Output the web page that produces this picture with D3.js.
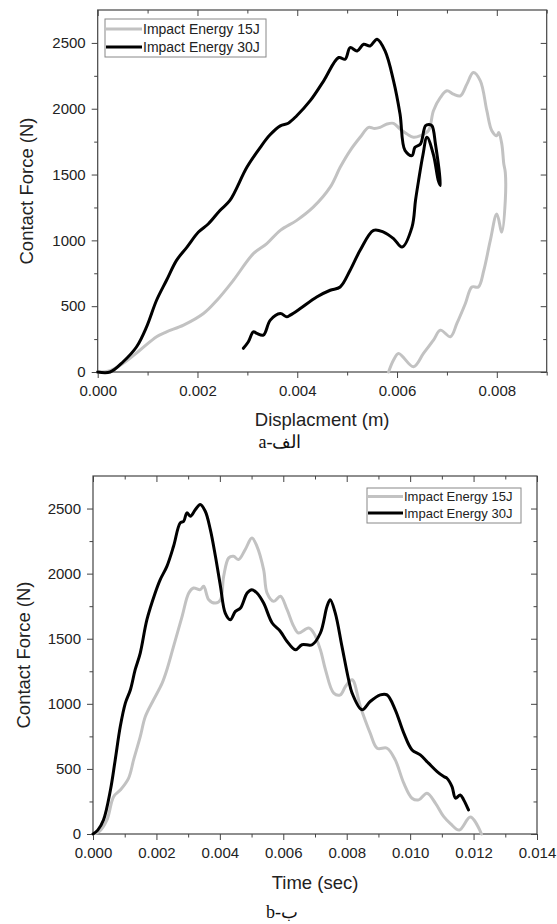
<!DOCTYPE html>
<html>
<head>
<meta charset="utf-8">
<script src="https://cdn.jsdelivr.net/npm/d3@7"></script>
<style>
html,body{margin:0;padding:0;background:#fff;}
svg{display:block;}
</style>
</head>
<body>
<svg id="chart" width="557" height="924"></svg>
<script>
// ---------- DATA ----------
const seriesNames = ["Impact Energy 15J", "Impact Energy 30J"];
const yTickValues = [0, 500, 1000, 1500, 2000, 2500];
const topXTickValues = [0.000, 0.002, 0.004, 0.006, 0.008];
const botXTickValues = [0.000, 0.002, 0.004, 0.006, 0.008, 0.010, 0.012, 0.014];

// (a) Force vs displacement, 15J
const top15X = [0, 0.00025, 0.00051, 0.00085, 0.00118, 0.00138, 0.00172, 0.00212, 0.00239, 0.00272, 0.00312, 0.00339, 0.00366, 0.00399, 0.00432, 0.00466, 0.00486, 0.00506, 0.00526, 0.00543, 0.00555, 0.00566, 0.0058, 0.00593, 0.00606, 0.0062, 0.00633, 0.00647, 0.00663, 0.00673, 0.00687, 0.007, 0.00713, 0.00727, 0.0074, 0.00753, 0.00767, 0.0078, 0.0079, 0.008, 0.00804, 0.0081, 0.00814, 0.00817, 0.00817, 0.0081, 0.008, 0.00787, 0.00774, 0.00763, 0.0075, 0.00737, 0.0072, 0.00707, 0.00687, 0.00673, 0.00653, 0.00633, 0.00603, 0.00593, 0.00583];
const top15F = [0, 10, 66, 167, 268, 305, 356, 444, 545, 697, 899, 975, 1076, 1152, 1252, 1404, 1555, 1682, 1783, 1858, 1850, 1858, 1884, 1889, 1846, 1808, 1783, 1795, 1833, 1985, 2086, 2136, 2111, 2098, 2187, 2275, 2212, 1985, 1833, 1795, 1820, 1732, 1581, 1517, 1303, 1063, 1200, 1000, 773, 646, 646, 520, 369, 268, 318, 242, 141, 40, 141, 91, 0];

// (a) Force vs displacement, 30J
const top30X = [0, 0.00025, 0.00051, 0.00078, 0.00098, 0.00118, 0.00138, 0.00158, 0.00179, 0.00202, 0.00222, 0.00245, 0.00265, 0.00299, 0.00326, 0.00345, 0.00366, 0.00382, 0.00399, 0.00426, 0.00453, 0.00483, 0.00496, 0.00506, 0.0052, 0.00533, 0.00546, 0.0056, 0.00576, 0.00593, 0.00606, 0.00616, 0.0063, 0.00636, 0.00647, 0.00657, 0.00664, 0.0067, 0.00677, 0.00687, 0.00683, 0.00673, 0.0066, 0.00652, 0.00643, 0.00637, 0.0063, 0.0061, 0.00593, 0.00573, 0.00553, 0.00526, 0.00506, 0.00486, 0.00466, 0.00439, 0.00406, 0.00386, 0.00379, 0.00366, 0.00346, 0.00332, 0.00319, 0.00312, 0.00302, 0.00292];
const top30F = [0, 0, 78, 192, 343, 545, 697, 848, 949, 1063, 1126, 1227, 1303, 1555, 1707, 1800, 1870, 1890, 1947, 2061, 2212, 2389, 2376, 2464, 2439, 2490, 2477, 2528, 2439, 2212, 1960, 1682, 1644, 1707, 1732, 1871, 1880, 1871, 1732, 1417, 1450, 1650, 1783, 1650, 1450, 1303, 1101, 949, 1013, 1063, 1076, 924, 773, 646, 621, 570, 482, 432, 419, 444, 394, 280, 293, 305, 230, 180];

// (b) Force vs time, 15J
const bot15T = [0, 0.0002, 0.00044, 0.00065, 0.00086, 0.00112, 0.00128, 0.00149, 0.00165, 0.00191, 0.00218, 0.00233, 0.00254, 0.00281, 0.00302, 0.00317, 0.00338, 0.00349, 0.00365, 0.00386, 0.00402, 0.00412, 0.00428, 0.00443, 0.00459, 0.0048, 0.00501, 0.00517, 0.00538, 0.00549, 0.0057, 0.00591, 0.00612, 0.00633, 0.00648, 0.0068, 0.00696, 0.00717, 0.00733, 0.00759, 0.0078, 0.00796, 0.00817, 0.00843, 0.00874, 0.00896, 0.00927, 0.00953, 0.0098, 0.01006, 0.01027, 0.01053, 0.0108, 0.01106, 0.01127, 0.01155, 0.0119, 0.01225];
const bot15F = [0, 20, 108, 287, 338, 428, 569, 748, 902, 1031, 1159, 1262, 1441, 1672, 1851, 1890, 1877, 1903, 1800, 1774, 1800, 1980, 2121, 2133, 2108, 2185, 2274, 2210, 2031, 1851, 1787, 1826, 1723, 1595, 1544, 1582, 1544, 1415, 1262, 1082, 1069, 1133, 1185, 979, 775, 659, 659, 569, 390, 275, 262, 313, 236, 133, 80, 30, 130, 0];

// (b) Force vs time, 30J
const bot30T = [0, 0.00015, 0.00033, 0.00055, 0.0007, 0.00086, 0.00102, 0.00118, 0.00133, 0.00149, 0.0017, 0.00196, 0.00212, 0.00233, 0.00254, 0.00275, 0.00286, 0.00296, 0.00307, 0.00323, 0.00338, 0.00354, 0.0037, 0.00386, 0.00402, 0.00417, 0.00433, 0.00449, 0.00465, 0.00486, 0.00501, 0.00517, 0.00538, 0.00565, 0.00591, 0.00612, 0.00638, 0.00659, 0.00691, 0.00717, 0.00738, 0.00748, 0.00764, 0.00785, 0.00806, 0.00817, 0.00848, 0.00874, 0.00906, 0.00927, 0.00953, 0.0098, 0.01006, 0.01032, 0.01058, 0.01085, 0.01106, 0.01116, 0.01132, 0.01143, 0.01158, 0.01169, 0.01184];
const bot30F = [0, 30, 108, 338, 569, 825, 1005, 1108, 1262, 1390, 1646, 1851, 1954, 2056, 2210, 2390, 2403, 2467, 2441, 2492, 2531, 2479, 2338, 2133, 1902, 1697, 1646, 1710, 1736, 1851, 1877, 1851, 1774, 1621, 1556, 1479, 1415, 1454, 1454, 1544, 1749, 1800, 1697, 1441, 1185, 1082, 954, 1018, 1069, 1069, 954, 775, 646, 608, 544, 479, 441, 428, 364, 275, 300, 262, 185];

// ---------- DRAWING ----------
const svg = d3.select("#chart");
const colors = ["#c2c2c2", "#000000"];
const axisColor = "#444";
const textColor = "#222";
const fontSans = "'Liberation Sans', Arial, sans-serif";

function drawPanel(cfg) {
  const g = svg.append("g");
  const x = d3.scaleLinear().domain(cfg.xDomain).range([cfg.left, cfg.right]);
  const y = d3.scaleLinear().domain([0, 2750]).range([cfg.bottom, cfg.top]);

  const xMinor = d3.range(cfg.xDomain[0], cfg.xDomain[1] + 1e-9, 0.001).filter(v => Math.abs(Math.round(v * 1000) % 2) === 1);
  const yMinor = [250, 750, 1250, 1750, 2250];

  function styleAxis(sel) {
    sel.select(".domain").remove();
    sel.selectAll("line").attr("stroke", axisColor).attr("stroke-width", 1);
    sel.selectAll("text").attr("fill", textColor).style("font-family", fontSans).style("font-size", "15px");
  }

  // bottom axis (outward)
  g.append("g").attr("transform", `translate(0,${cfg.bottom})`)
    .call(d3.axisBottom(x).tickValues(cfg.xTicks).tickFormat(d3.format(".3f")).tickSize(6).tickPadding(7))
    .call(styleAxis);
  g.append("g").attr("transform", `translate(0,${cfg.bottom})`)
    .call(d3.axisBottom(x).tickValues(xMinor).tickFormat("").tickSize(3.5))
    .call(styleAxis);
  // top axis (inward)
  g.append("g").attr("transform", `translate(0,${cfg.top})`)
    .call(d3.axisTop(x).tickValues(cfg.xTicks).tickFormat("").tickSize(-6))
    .call(styleAxis);
  g.append("g").attr("transform", `translate(0,${cfg.top})`)
    .call(d3.axisTop(x).tickValues(xMinor).tickFormat("").tickSize(-3.5))
    .call(styleAxis);
  // left axis (outward)
  g.append("g").attr("transform", `translate(${cfg.left},0)`)
    .call(d3.axisLeft(y).tickValues(yTickValues).tickFormat(d3.format("d")).tickSize(6).tickPadding(6))
    .call(styleAxis);
  g.append("g").attr("transform", `translate(${cfg.left},0)`)
    .call(d3.axisLeft(y).tickValues(yMinor).tickFormat("").tickSize(3.5))
    .call(styleAxis);
  // right axis (inward)
  g.append("g").attr("transform", `translate(${cfg.right},0)`)
    .call(d3.axisRight(y).tickValues(yTickValues).tickFormat("").tickSize(-6))
    .call(styleAxis);
  g.append("g").attr("transform", `translate(${cfg.right},0)`)
    .call(d3.axisRight(y).tickValues(yMinor).tickFormat("").tickSize(-3.5))
    .call(styleAxis);

  // frame
  g.append("rect")
    .attr("x", cfg.left).attr("y", cfg.top)
    .attr("width", cfg.right - cfg.left).attr("height", cfg.bottom - cfg.top)
    .attr("fill", "none").attr("stroke", axisColor).attr("stroke-width", 1.2);

  const line = d3.line()
    .x(d => x(d[0])).y(d => y(d[1]))
    .curve(d3.curveCatmullRom.alpha(0.5));

  cfg.series.forEach((s, i) => {
    const pts = s.xs.map((v, k) => [v, s.fs[k]]);
    g.append("path").datum(pts)
      .attr("d", line)
      .attr("fill", "none")
      .attr("stroke", colors[i])
      .attr("stroke-width", 3)
      .attr("stroke-linejoin", "round")
      .attr("stroke-linecap", "round");
  });

  // legend
  const L = cfg.legend;
  g.append("rect").attr("x", L.x).attr("y", L.y).attr("width", L.w).attr("height", L.h)
    .attr("fill", "#fff").attr("stroke", "#888").attr("stroke-width", 1);
  seriesNames.forEach((name, i) => {
    const cy = L.y + L.rowTop + i * L.rowGap;
    g.append("line").attr("x1", L.x + 1).attr("x2", L.x + L.sample).attr("y1", cy).attr("y2", cy)
      .attr("stroke", colors[i]).attr("stroke-width", 3);
    g.append("text").attr("x", L.x + L.sample + 1).attr("y", cy).attr("dy", "0.36em")
      .attr("fill", textColor).style("font-family", fontSans).style("font-size", L.font + "px")
      .text(name);
  });

  // axis titles
  g.append("text")
    .attr("transform", `translate(${cfg.yTitleX},${(cfg.top + cfg.bottom) / 2}) rotate(-90)`)
    .attr("text-anchor", "middle")
    .attr("fill", textColor).style("font-family", fontSans).style("font-size", "18.5px")
    .text("Contact Force (N)");
  g.append("text")
    .attr("x", (cfg.left + cfg.right) / 2).attr("y", cfg.xTitleY)
    .attr("text-anchor", "middle")
    .attr("fill", textColor).style("font-family", fontSans).style("font-size", "18.5px")
    .text(cfg.xTitle);
  // caption
  g.append("text")
    .attr("x", cfg.capX).attr("y", cfg.capY)
    .attr("text-anchor", "middle").attr("direction", "ltr")
    .attr("fill", "#111").style("font-family", "'Liberation Serif', 'DejaVu Serif', serif").style("font-size", "18px")
    .text(cfg.caption);
}

drawPanel({
  left: 97.7, right: 546.7, top: 10, bottom: 372,
  xDomain: [0, 0.009], xTicks: topXTickValues,
  series: [{ xs: top15X, fs: top15F }, { xs: top30X, fs: top30F }],
  legend: { x: 105, y: 19, w: 161, h: 38, rowTop: 10, rowGap: 18, sample: 37, font: 14 },
  yTitleX: 33, xTitle: "Displacment (m)", xTitleY: 426,
  caption: "a-الف", capX: 280, capY: 448
});

drawPanel({
  left: 93, right: 537, top: 476, bottom: 834,
  xDomain: [0, 0.014], xTicks: botXTickValues,
  series: [{ xs: bot15T, fs: bot15F }, { xs: bot30T, fs: bot30F }],
  legend: { x: 367, y: 488, w: 154, h: 35, rowTop: 8.5, rowGap: 16.5, sample: 36, font: 13 },
  yTitleX: 30, xTitle: "Time (sec)", xTitleY: 889,
  caption: "b-ب", capX: 282, capY: 918
});
</script>
</body>
</html>
